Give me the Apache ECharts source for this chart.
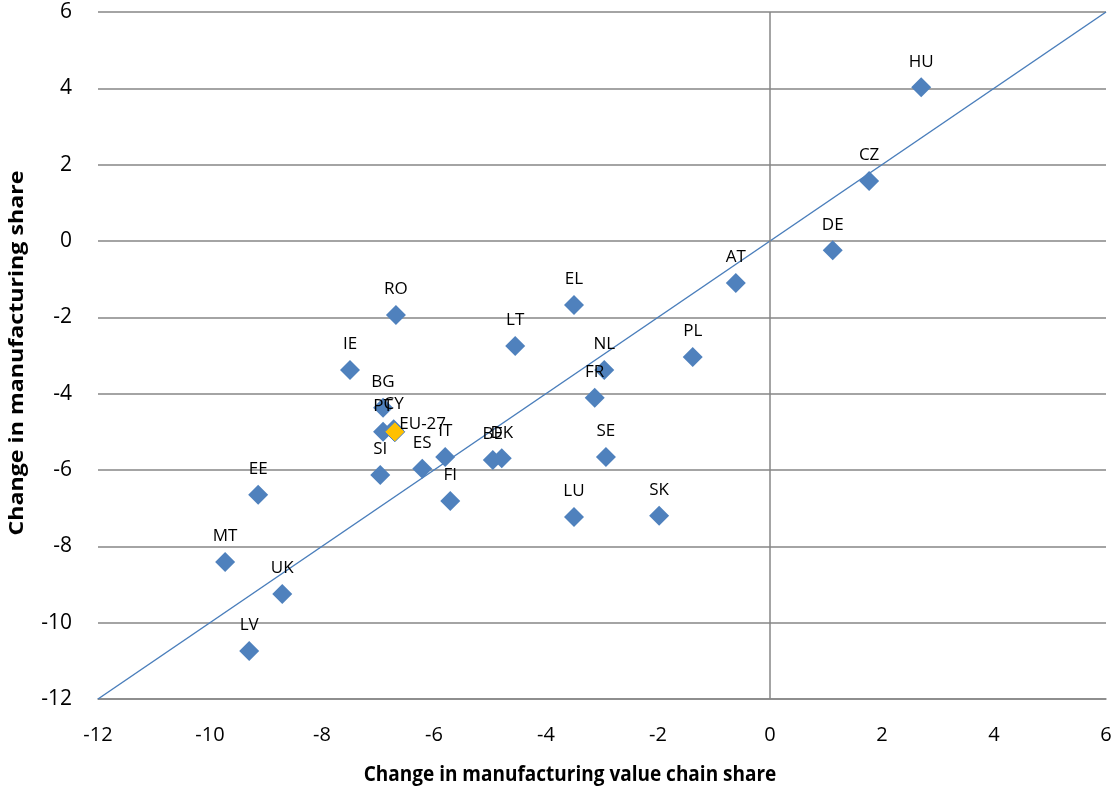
<!DOCTYPE html>
<html>
<head>
<meta charset="utf-8">
<script src="https://cdn.jsdelivr.net/npm/echarts@6/dist/echarts.min.js"></script>
<style>
  html, body { margin: 0; padding: 0; background: #fff; }
  #chart { width: 1116px; height: 789px; }
</style>
</head>
<body>
<div id="chart"></div>
<script>
// Country codes and their changes in shares (percentage points)
const countries = ['HU', 'CZ', 'DE', 'AT', 'EL', 'RO', 'LT', 'PL', 'NL', 'FR', 'IE', 'BG', 'PT', 'CY',
  'SI', 'ES', 'IT', 'FI', 'BE', 'DK', 'SE', 'LU', 'SK', 'EE', 'MT', 'UK', 'LV'];
const valueChainShare = [2.70, 1.77, 1.12, -0.61, -3.50, -6.68, -4.55, -1.38, -2.96, -3.13, -7.50, -6.91, -6.91, -6.72,
  -6.96, -6.21, -5.80, -5.71, -4.95, -4.79, -2.93, -3.50, -1.98, -9.14, -9.73, -8.71, -9.30];
const manufacturingShare = [4.03, 1.57, -0.24, -1.10, -1.68, -1.94, -2.75, -3.04, -3.38, -4.11, -3.38, -4.37, -5.00, -4.93,
  -6.13, -5.97, -5.66, -6.81, -5.74, -5.69, -5.66, -7.23, -7.20, -6.65, -8.41, -9.25, -10.74];

// EU aggregate
const euName = ['EU-27'];
const euValueChainShare = [-6.70];
const euManufacturingShare = [-5.00];

// Reference line y = x
const diagX = [-12, 6];
const diagY = [-12, 6];

// Axis ranges and titles
const xTicks = [-12, -10, -8, -6, -4, -2, 0, 2, 4, 6];
const yTicks = [-12, -10, -8, -6, -4, -2, 0, 2, 4, 6];
const xTitle = 'Change in manufacturing value chain share';
const yTitle = 'Change in manufacturing share';

const fontFamily = '"Open Sans", "Noto Sans", sans-serif';

const chart = echarts.init(document.getElementById('chart'), null, { renderer: 'canvas' });

chart.setOption({
  animation: false,
  backgroundColor: '#ffffff',
  grid: { left: 98, right: 10, top: 12, bottom: 90, containLabel: false },
  xAxis: {
    type: 'value',
    min: xTicks[0], max: xTicks[xTicks.length - 1], interval: 2,
    axisLine: { onZero: false, lineStyle: { color: '#868686', width: 1.5 } },
    axisTick: { show: false },
    axisLabel: { fontFamily, fontSize: 20, color: '#000', margin: 26 },
    splitLine: { show: false }
  },
  yAxis: {
    type: 'value',
    min: yTicks[0], max: yTicks[yTicks.length - 1], interval: 2,
    axisLine: { show: false },
    axisTick: { show: false },
    axisLabel: { fontFamily, fontSize: 21, color: '#000', margin: 26 },
    splitLine: { show: true, lineStyle: { color: '#868686', width: 1.5 } }
  },
  graphic: [
    {
      type: 'text',
      x: 570, y: 775,
      scaleY: 1.1,
      style: {
        text: xTitle,
        font: 'bold 19px ' + fontFamily,
        fill: '#000',
        align: 'center', verticalAlign: 'middle',
        textAlign: 'center', textVerticalAlign: 'middle'
      }
    },
    {
      type: 'text',
      x: 17, y: 353,
      rotation: Math.PI / 2,
      scaleX: 1.16,
      style: {
        text: yTitle,
        font: 'bold 20px ' + fontFamily,
        fill: '#000',
        align: 'center', verticalAlign: 'middle',
        textAlign: 'center', textVerticalAlign: 'middle'
      }
    }
  ],
  series: [
    {
      name: 'diagonal',
      type: 'line',
      data: diagX.map((x, i) => [x, diagY[i]]),
      showSymbol: false,
      lineStyle: { color: '#4A7EBB', width: 1.5 },
      z: 3,
      markLine: {
        silent: true,
        symbol: 'none',
        label: { show: false },
        lineStyle: { color: '#868686', width: 1.5, type: 'solid' },
        data: [{ xAxis: 0 }]
      }
    },
    {
      name: 'countries',
      type: 'scatter',
      symbol: 'diamond',
      symbolSize: 20,
      itemStyle: { color: '#4F81BD', opacity: 1 },
      data: countries.map((c, i) => [valueChainShare[i], manufacturingShare[i], c]),
      label: {
        show: true,
        position: 'top',
        distance: 7,
        formatter: p => p.data[2],
        fontFamily, fontSize: 17, color: '#000'
      },
      z: 5
    },
    {
      name: 'EU-27',
      type: 'scatter',
      symbol: 'diamond',
      symbolSize: 20,
      itemStyle: { color: '#FFC000', borderColor: '#4F81BD', borderWidth: 1, opacity: 1 },
      data: euName.map((c, i) => [euValueChainShare[i], euManufacturingShare[i], c]),
      label: {
        show: true,
        position: 'right',
        distance: -6,
        offset: [0, -8],
        formatter: p => p.data[2],
        fontFamily, fontSize: 17, color: '#000'
      },
      z: 6
    }
  ]
});
</script>
</body>
</html>
